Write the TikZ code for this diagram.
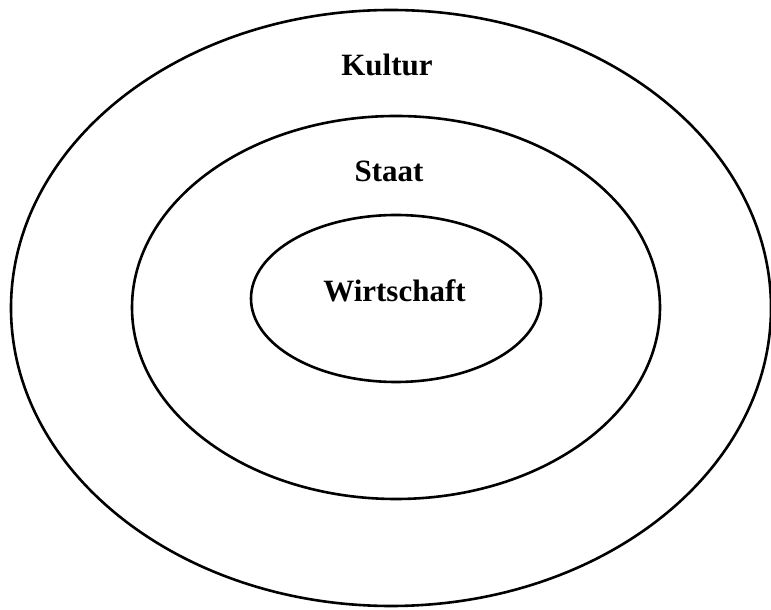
\documentclass[tikz,border=0pt]{standalone}
\usepackage{fontspec}
\setmainfont{Liberation Serif}
\usepackage{tikz}
\def\kulturring{(195.5pt,151pt) ellipse (190pt and 149pt)}
\def\staatring{(198pt,151.25pt) ellipse (132pt and 95.75pt)}
\def\wirtschaftring{(198pt,155.75pt) ellipse (72.5pt and 41.75pt)}
\tikzset{ring/.style={draw=black, line width=1.3pt},
	label text/.style={font=\bfseries\fontsize{15.5}{18}\selectfont, anchor=base, inner sep=0pt}}

\begin{document}
\begin{tikzpicture}
		\useasboundingbox (0,0) rectangle (385.5pt,305pt);
		\draw[ring] \kulturring;
		\draw[ring] \staatring;
		\draw[ring] \wirtschaftring;
		\node[label text] (kultur) at (193.5pt,267pt) {Kultur};
		\node[label text] (staat) at (194.5pt,214pt) {Staat};
		\node[label text] (wirtschaft) at (197.25pt,154pt) {Wirtschaft};
		\end{tikzpicture}
\end{document}
